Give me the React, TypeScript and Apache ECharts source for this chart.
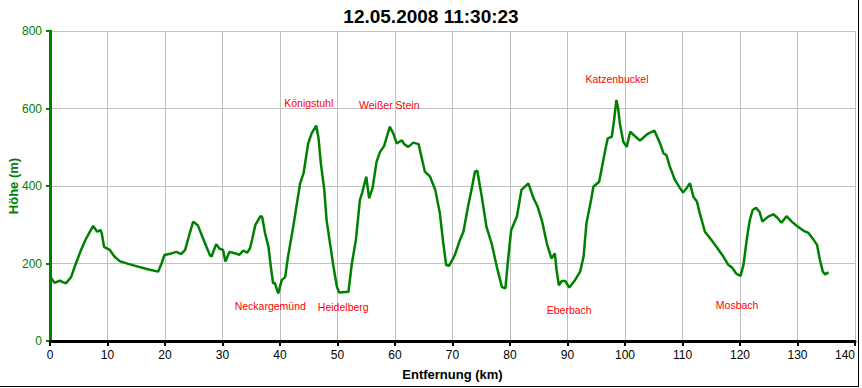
import React, { useEffect, useRef } from "react";
import * as echarts from "echarts";

const titleText = "12.05.2008 11:30:23";
const xAxisName = "Entfernung (km)";
const yAxisName = "Höhe (m)";

const distanceKm = [
  0.0, 0.3, 0.8, 1.7, 2.2, 2.8, 3.7, 4.3, 5.4, 6.3, 7.5, 8.2, 8.8, 9.0, 9.4, 10.4, 11.2, 12.1, 13.6, 15.3,
  17.0, 18.8, 19.4, 19.9, 21.1, 22.0, 22.8, 23.5, 24.3, 24.9, 25.7, 26.6, 27.8, 28.1, 28.9, 29.5, 30.1, 30.5,
  31.2, 32.3, 32.9, 33.6, 34.3, 34.8, 35.2, 35.7, 36.6, 36.9, 37.4, 38.0, 38.4, 38.8, 39.1, 39.4, 39.7, 40.3,
  40.9, 41.4, 42.3, 43.5, 44.1, 44.9, 45.5, 46.3, 46.7, 47.1, 47.7, 48.1, 48.7, 49.3, 49.9, 50.3, 51.9, 52.5,
  53.2, 53.9, 54.3, 55.0, 55.5, 56.1, 56.8, 57.4, 58.1, 59.1, 59.7, 60.3, 61.2, 61.6, 62.3, 63.2, 64.1, 65.2,
  66.1, 67.0, 67.8, 68.4, 68.9, 69.4, 70.1, 70.4, 71.3, 71.9, 72.7, 73.3, 73.9, 74.3, 75.1, 75.9, 76.8, 77.7,
  78.6, 79.2, 79.6, 80.2, 81.2, 82.0, 83.2, 84.1, 84.8, 85.6, 86.4, 87.2, 87.8, 88.1, 88.5, 89.0, 89.6, 90.3,
  91.3, 92.2, 92.8, 93.3, 94.1, 94.5, 95.5, 95.9, 96.5, 97.0, 97.7, 98.1, 98.5, 98.8, 99.1, 99.7, 100.3, 100.9,
  101.7, 102.6, 103.8, 105.1, 106.1, 106.7, 107.2, 107.8, 108.7, 109.6, 110.1, 110.7, 111.3, 111.9, 112.5,
  113.0, 113.9, 114.8, 115.9, 117.1, 118.0, 118.6, 119.4, 120.1, 120.6, 121.2, 121.7, 122.2, 122.8, 123.4,
  123.9, 124.9, 125.8, 126.5, 127.2, 128.1, 129.0, 129.9, 131.0, 131.9, 132.8, 133.4, 133.9, 134.4, 134.8, 135.4,
];

const elevationM = [
  170, 160, 150, 156, 152, 149, 166, 192, 235, 265, 297, 282, 286, 278, 243, 235, 218, 206, 199, 192,
  185, 179, 200, 222, 226, 230, 224, 235, 278, 308, 299, 265, 222, 218, 250, 238, 235, 205,
  230, 226, 222, 233, 228, 240, 265, 299, 322, 320, 278, 243, 192, 149, 150, 136, 123, 157,
  165, 218, 295, 407, 433, 510, 536, 556, 523, 459, 390, 312, 252, 192, 140, 125, 127, 200,
  261, 364, 383, 424, 368, 395, 463, 488, 503, 553, 536, 510, 518, 508, 501, 512, 508, 437,
  424, 390, 330, 252, 196, 194, 213, 222, 261, 282, 347, 390, 437, 440, 372, 295, 252, 192,
  139, 136, 200, 286, 321, 390, 407, 368, 347, 308, 252, 213, 226, 183, 144, 155, 155, 138,
  157, 179, 218, 304, 364, 398, 411, 441, 488, 523, 527, 570, 622, 600, 562, 514, 501, 540,
  529, 517, 533, 543, 510, 484, 480, 450, 415, 394, 383, 394, 407, 372, 360,
  330, 282, 265, 243, 218, 196, 190, 173, 168, 196, 265, 312, 338, 344, 333,
  308, 321, 327, 318, 305, 322, 308, 297, 285, 279, 261, 248, 209, 179, 172, 177,
];

const placeNames = ["Königstuhl", "Weißer Stein", "Katzenbuckel", "Neckargemünd", "Heidelberg", "Eberbach", "Mosbach"];
const placeKm = [45.0, 59.0, 98.6, 38.3, 51.0, 90.3, 119.5];
const placeLabelM = [614, 609, 676, 90, 88, 80, 93];

export default function App() {
  const ref = useRef<HTMLDivElement>(null);

  useEffect(() => {
    if (!ref.current) return;
    const chart = echarts.init(ref.current, undefined, { renderer: "svg" });
    const font = "'Liberation Sans', Arial, sans-serif";
    chart.setOption({
      animation: false,
      backgroundColor: "#ffffff",
      textStyle: { fontFamily: font },
      title: {
        text: titleText,
        left: "center",
        top: 2,
        textStyle: { fontFamily: font, fontSize: 19, fontWeight: "bold", color: "#000000" },
      },
      grid: { left: 50, right: 7, top: 31, bottom: 47, containLabel: false, outerBoundsMode: "none" },
      xAxis: {
        type: "value",
        min: 0,
        max: 140,
        interval: 10,
        name: xAxisName,
        nameLocation: "middle",
        nameGap: 27,
        nameTextStyle: { fontFamily: font, fontSize: 13, fontWeight: "bold", color: "#000000" },
        axisLine: { show: true, onZero: false, lineStyle: { color: "#000000", width: 3 } },
        axisTick: { show: true, length: 5, lineStyle: { color: "#000000", width: 2 } },
        axisLabel: { color: "#000000", fontSize: 12, margin: 8, fontFamily: font, alignMaxLabel: "right" },
        splitLine: { show: true, lineStyle: { color: "#c0c0c0", width: 1 } },
      },
      yAxis: {
        type: "value",
        min: 0,
        max: 800,
        interval: 200,
        name: yAxisName,
        nameLocation: "middle",
        nameGap: 30,
        nameMoveOverlap: false,
        nameTextStyle: { fontFamily: font, fontSize: 13, fontWeight: "bold", color: "#008000" },
        axisLine: { show: true, onZero: false, lineStyle: { color: "#008000", width: 3 } },
        axisTick: { show: true, length: 4, lineStyle: { color: "#008000", width: 2 } },
        axisLabel: { color: "#008000", fontSize: 12, margin: 8, fontFamily: font },
        splitLine: { show: true, lineStyle: { color: "#c0c0c0", width: 1 } },
      },
      series: [
        {
          type: "line",
          data: distanceKm.map((d, i) => [d, elevationM[i]]),
          showSymbol: false,
          symbol: "none",
          lineStyle: { color: "#008000", width: 2.5 },
          z: 3,
        },
        {
          type: "scatter",
          data: placeNames.map((n, i) => ({ name: n, value: [placeKm[i], placeLabelM[i]] })),
          symbolSize: 0,
          itemStyle: { color: "#ff0000", opacity: 0 },
          label: {
            show: true,
            position: "inside",
            formatter: (p: any) => p.name,
            color: "#ff0000",
            fontSize: 10.5,
            fontFamily: font,
            textBorderWidth: 0,
            opacity: 1,
          },
          z: 4,
        },
      ],
      graphic: [
        { type: "line", shape: { x1: 0, y1: 386.5, x2: 859, y2: 386.5 }, style: { stroke: "#000000", lineWidth: 1 } },
        { type: "line", shape: { x1: 858.5, y1: 0, x2: 858.5, y2: 387 }, style: { stroke: "#000000", lineWidth: 1 } },
      ],
    });
    return () => chart.dispose();
  }, []);

  return (
    <div
      ref={ref}
      style={{ position: "absolute", left: 0, top: 0, width: 862, height: 388 }}
    />
  );
}
